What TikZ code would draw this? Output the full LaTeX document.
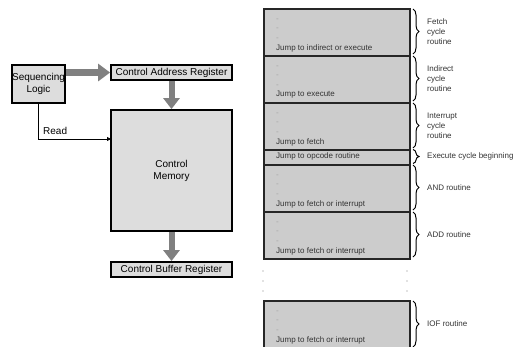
\documentclass[tikz,border=0pt]{standalone}
\usepackage{fontspec}
\setmainfont{Liberation Sans}
\usetikzlibrary{arrows.meta,decorations.pathreplacing}
\definecolor{lboxc}{HTML}{DDDDDD}
\definecolor{rboxc}{HTML}{CCCCCC}
\definecolor{arrc}{HTML}{808080}
\definecolor{txtc}{HTML}{333333}
\begin{document}
\begin{tikzpicture}[x=1pt,y=-1pt,
  lbox/.style={draw=black,line width=1.8pt,fill=lboxc,inner sep=0pt,font=\fontsize{10}{12}\selectfont,align=center},
  rsec/.style={draw=black!85,line width=1.6pt,fill=rboxc,anchor=north west,minimum width=146pt,inner sep=0pt},
  rtxt/.style={anchor=west,inner sep=0pt,font=\fontsize{8}{9}\selectfont,text=txtc},
  rdot/.style={anchor=west,inner sep=0pt,font=\fontsize{8}{9}\selectfont,text=gray!70},
  lab/.style={anchor=west,inner sep=0pt,font=\fontsize{8}{10}\selectfont,align=left,text=txtc},
  garrow/.style={draw=arrc,line width=7pt,-{Triangle[width=17pt,length=12pt]}},
  brc/.style={decorate,decoration={brace,amplitude=6pt},line width=1pt}
]
\useasboundingbox (0,0) rectangle (522,346);

% left part
\node[lbox,minimum width=53pt,minimum height=38pt] (seq) at (38.5,84) {Sequencing\\Logic};
\node[lbox,minimum width=121pt,minimum height=15pt] (car) at (171.5,72.5) {Control Address Register};
\node[lbox,minimum width=121pt,minimum height=121pt] (cm) at (171.5,170.5) {Control\\Memory};
\node[lbox,minimum width=121pt,minimum height=15pt] (cbr) at (171.5,269.5) {Control Buffer Register};
\coordinate (readend) at (111,139);

\draw[garrow] (seq.east |- car.west) -- (car.west);
\draw[garrow,line width=6pt,-{Triangle[width=16pt,length=11pt]}] (car.south) -- (cm.north);
\draw[garrow,line width=6pt,-{Triangle[width=16pt,length=11pt]}] (cm.south) -- (cbr.north);
\draw[line width=0.8pt,-{Triangle[width=4pt,length=4pt]}] (seq.south) |- (readend);
\node[anchor=south west,inner sep=0pt,font=\fontsize{10}{12}\selectfont] (readlbl) at (43,135) {Read};

% right part
\node[rsec,minimum height=47pt] (fetch) at (263,8) {};
\node[rsec,minimum height=47pt] (indirect) at (263,55) {};
\node[rsec,minimum height=47pt] (interrupt) at (263,102) {};
\node[rsec,minimum height=15pt] (exec) at (263,149) {};
\node[rsec,minimum height=47pt] (andr) at (263,164) {};
\node[rsec,minimum height=47pt] (addr) at (263,211) {};
\node[rsec,minimum height=52pt] (iof) at (263,300) {};

\foreach \t/\j [count=\i] in {8/Jump to indirect or execute,55/Jump to execute,102/Jump to fetch,164/Jump to fetch or interrupt,211/Jump to fetch or interrupt,300/Jump to fetch or interrupt}{
  \node[rdot] (da\i) at (276,\t+12) {-};
  \node[rdot] (db\i) at (276,\t+21) {-};
  \node[rdot] (dc\i) at (276,\t+31) {-};
  \node[rtxt] (jmp\i) at (276,\t+40) {\j};
}
\node[rtxt] (jop) at (276,156.5) {Jump to opcode routine};

% dots between
\foreach \y in {271,281,291}{
  \fill[gray] (263,\y) circle (0.6);
  \fill[gray] (407,\y) circle (0.6);
}

% braces
\draw[brc] (413,9) -- (413,54);
\draw[brc] (413,56) -- (413,101);
\draw[brc] (413,103) -- (413,148);
\draw[brc] (413,149.5) -- (413,163.5);
\draw[brc] (413,165) -- (413,210);
\draw[brc] (413,212) -- (413,257);
\draw[brc] (413,301) -- (413,347);

\node[lab] (lf) at (427,31.5) {Fetch\\cycle\\routine};
\node[lab] (li) at (427,78.5) {Indirect\\cycle\\routine};
\node[lab] (lint) at (427,125.5) {Interrupt\\cycle\\routine};
\node[lab] (le) at (427,156.5) {Execute cycle beginning};
\node[lab] (la) at (427,187.5) {AND routine};
\node[lab] (lad) at (427,234.5) {ADD routine};
\node[lab] (lio) at (427,324) {IOF routine};
\end{tikzpicture}
\end{document}
